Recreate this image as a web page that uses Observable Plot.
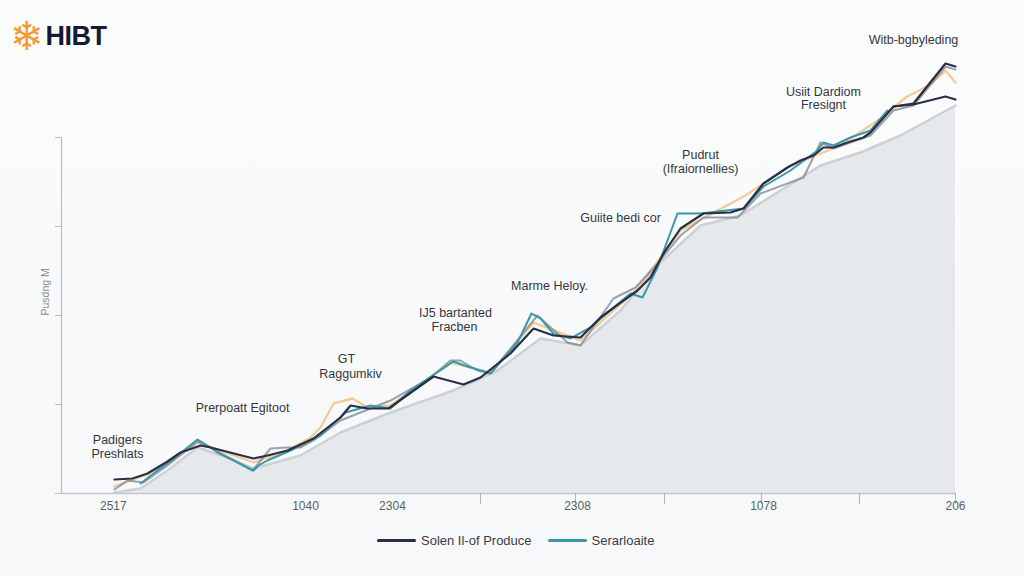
<!DOCTYPE html>
<html>
<head>
<meta charset="utf-8">
<script src="https://cdn.jsdelivr.net/npm/d3@7"></script>
<script src="https://cdn.jsdelivr.net/npm/@observablehq/plot@0.6"></script>
<style>
  html, body { margin: 0; padding: 0; background: #f8fafb; }
  #wrap { position: relative; width: 1024px; height: 576px; overflow: hidden;
          background: linear-gradient(180deg, #fbfcfc 0%, #f6f8f9 100%); font-family: "Liberation Sans", Arial, sans-serif; }
  #logo { position: absolute; left: 10px; top: 16px; display: flex; align-items: center; }
  #logo .flake { color: #f29a36; font-size: 40px; line-height: 1; font-family: "DejaVu Sans", sans-serif; }
  #logo .name { color: #161a33; font-size: 27px; font-weight: bold; margin-left: 2px; letter-spacing: -0.5px; }
  #chart { position: absolute; left: 0; top: 0; }
  #legend { position: absolute; top: 533px; left: 377px; display: flex; align-items: center; font-size: 13px; color: #3a3d4a; }
  #legend .sw { display: inline-block; width: 39px; height: 3px; border-radius: 2px; margin-right: 5px; }
  #legend .item { display: flex; align-items: center; margin-right: 16px; }
</style>
</head>
<body>
<div id="wrap">
  <div id="chart"></div>
  <div id="logo"><span class="flake">❄</span><span class="name">HIBT</span></div>
  <div id="legend"></div>
</div>
<script>
// ---- data (x: period index 0-100, y: value index) ----
const navyX = [5.93,7.94,9.62,11.86,13.31,15.55,16.67,21.48,23.04,25.28,28.19,31.21,32.33,34.23,36.58,41.61,44.97,46.87,50.22,52.80,55.03,58.05,60.29,62.86,64.43,65.88,67.34,69.24,71.81,74.83,76.29,78.52,81.21,82.66,84.12,85.23,86.35,87.92,89.71,90.49,93.06,95.30,98.88,100];
const navyY = [3.93,4.21,5.62,8.99,11.52,13.48,12.92,9.83,10.67,12.08,15.45,21.35,24.72,23.88,23.88,32.87,30.62,32.58,39.33,46.35,44.38,43.82,49.44,54.21,57.02,60.67,67.42,74.44,78.65,78.93,80.06,87.08,91.57,93.54,94.94,97.19,97.19,98.60,100.0,101.40,108.71,109.27,111.52,110.67];
const navyUpperX = [93.06,95.30,98.88,100];
const navyUpperY = [108.71,109.55,120.79,119.94];
const tealX = [8.84,10.74,11.86,15.21,16.33,17.45,21.48,22.04,23.04,25.62,28.97,31.77,34.56,36.80,39.04,43.85,45.41,47.99,51.01,52.57,53.58,55.03,56.94,59.17,61.74,63.65,64.99,66.67,68.90,71.48,76.29,78.52,81.54,84.56,85.23,86.35,88.26,90.49,92.39];
const tealY = [2.81,6.46,8.43,15.17,13.48,11.52,6.46,7.87,9.27,12.08,16.29,22.75,24.72,23.88,28.93,37.08,35.67,33.71,42.42,50.56,49.16,44.94,43.54,46.63,52.25,56.18,55.06,63.48,78.65,78.65,80.06,86.24,90.73,96.35,98.60,97.75,100.0,101.97,107.58];
const grayX = [5.93,7.38,9.17,11.86,15.21,16.67,21.36,23.38,25.28,26.73,28.19,31.21,36.80,41.28,43.51,44.63,46.53,47.99,53.24,56.60,58.05,61.74,64.21,66.67,69.24,71.81,75.62,78.19,83.00,84.90,86.35,90.49,93.06,95.30,98.88,100];
const grayY = [1.12,3.65,3.09,7.87,14.61,12.92,6.46,12.64,12.92,12.92,14.89,20.51,26.12,32.58,37.36,37.36,34.55,33.71,50.00,42.42,41.57,54.78,57.87,64.61,72.47,77.53,77.53,84.27,88.76,98.60,96.91,100.56,107.58,108.99,119.94,119.10];
const peachX = [5.93,9.62,11.86,15.21,21.48,25.28,27.85,28.97,30.43,32.55,34.23,36.80,43.51,47.99,52.80,58.05,64.43,69.24,76.51,81.54,87.14,91.61,94.41,97.20,98.88,100];
const peachY = [1.97,5.34,8.71,14.33,8.71,12.08,15.73,18.54,25.28,26.69,24.16,24.72,36.80,33.99,48.03,42.98,57.58,73.88,83.71,92.13,97.75,105.34,111.24,114.89,118.82,115.45];
const areaX = [5.93,8.84,11.86,15.21,18.90,21.48,26.73,31.21,36.80,43.85,48.77,53.58,58.05,62.53,67.00,71.48,75.95,80.43,84.90,89.37,93.85,100];
const areaY = [0.28,1.40,6.46,12.92,9.83,7.02,10.67,17.13,22.75,28.93,34.55,43.54,41.57,51.40,64.89,75.28,78.09,85.11,92.13,95.79,100.56,108.99];

const xTickValues = [46.87,57.49,67.45,78.30,89.26,100];
const xLabelValues = [5.8,27.29,37.02,57.72,78.52,100];
const xLabelTexts = ["2517","1040","2304","2308","1078","206"];
const yTickValues = [0,25,50,75,100];
const yTitle = "Pusdng M";

const noteTexts = ["Padigers","Preshlats","Prerpoatt Egitoot","GT","Raggumkiv","IJ5 bartanted","Fracben","Marme Heloy.","Guiite bedi cor","Pudrut","(Ifraiornellies)","Usiit Dardiom","Fresignt","Witb-bgbyleding"];
const noteX = [6.26,6.26,20.25,31.88,32.33,44.07,43.96,54.59,62.53,71.48,71.48,85.23,85.23,95.3];
const noteY = [14.89,10.96,23.88,37.92,33.43,50.84,46.63,58.15,77.25,95.22,91.29,112.92,108.99,127.25];

const legendNames = ["Solen Il-of Produce","Serarloaite"];
const legendColors = ["#2b2e45","#3a98ab"];

// ---- build tables ----
const pts = (xs, ys) => xs.map((x, i) => ({x, y: ys[i]}));
const navy = pts(navyX, navyY), navyUp = pts(navyUpperX, navyUpperY), teal = pts(tealX, tealY),
      gray = pts(grayX, grayY), peach = pts(peachX, peachY), area = pts(areaX, areaY);
const notes = noteTexts.map((t, i) => ({t, x: noteX[i], y: noteY[i]}));
const labelMap = new Map(xLabelValues.map((v, i) => [v, xLabelTexts[i]]));

const plot = Plot.plot({
  width: 1024,
  height: 520,
  marginLeft: 61,
  marginRight: 69,
  marginTop: 137,
  marginBottom: 27,
  style: {background: "transparent", fontFamily: "Liberation Sans, Arial, sans-serif"},
  x: {domain: [0, 100]},
  y: {domain: [0, 100]},
  marks: [
    Plot.areaY(area, {x: "x", y: "y", fill: "#e5e8ea", fillOpacity: 0.95}),
    Plot.line(area, {x: "x", y: "y", stroke: "#cdd1d5", strokeWidth: 2.5}),
    Plot.line(peach, {x: "x", y: "y", stroke: "#f0c48a", strokeWidth: 2.4, strokeOpacity: 0.85}),
    Plot.line(gray, {x: "x", y: "y", stroke: "#7f838e", strokeWidth: 2, strokeOpacity: 0.75}),
    Plot.line(teal, {x: "x", y: "y", stroke: "#3a98ab", strokeWidth: 2}),
    Plot.line(navyUp, {x: "x", y: "y", stroke: "#2b2e45", strokeWidth: 2.2}),
    Plot.line(navy, {x: "x", y: "y", stroke: "#2b2e45", strokeWidth: 2.2}),
    Plot.ruleX([0], {y1: 0, y2: 100, stroke: "#b9bdc2", strokeWidth: 1.2}),
    Plot.ruleY([0], {x1: 0, x2: 100, stroke: "#c3c7cb", strokeWidth: 1.5}),
    Plot.axisY({ticks: yTickValues, tickFormat: () => "", tickSize: 6, stroke: "#b9bdc2", label: null}),
    Plot.axisX({ticks: xTickValues, tickFormat: () => "", tickSize: 11, stroke: "#b0b4b9", label: null}),
    Plot.axisX({ticks: xLabelValues, tickFormat: d => labelMap.get(d), tickSize: 0, tickPadding: 8, fontSize: 12, fill: "#5b5f68", label: null}),
    Plot.text([yTitle], {frameAnchor: "left", rotate: -90, dx: -16, fontSize: 10.5, fill: "#8a8e96"}),
    Plot.text(notes, {x: "x", y: "y", text: "t", fontSize: 12.5, fill: "#34363f"})
  ]
});
document.getElementById("chart").appendChild(plot);

const leg = document.getElementById("legend");
legendNames.forEach((n, i) => {
  const it = document.createElement("div");
  it.className = "item";
  it.innerHTML = `<span class="sw" style="background:${legendColors[i]}"></span><span>${n}</span>`;
  leg.appendChild(it);
});
</script>
</body>
</html>
